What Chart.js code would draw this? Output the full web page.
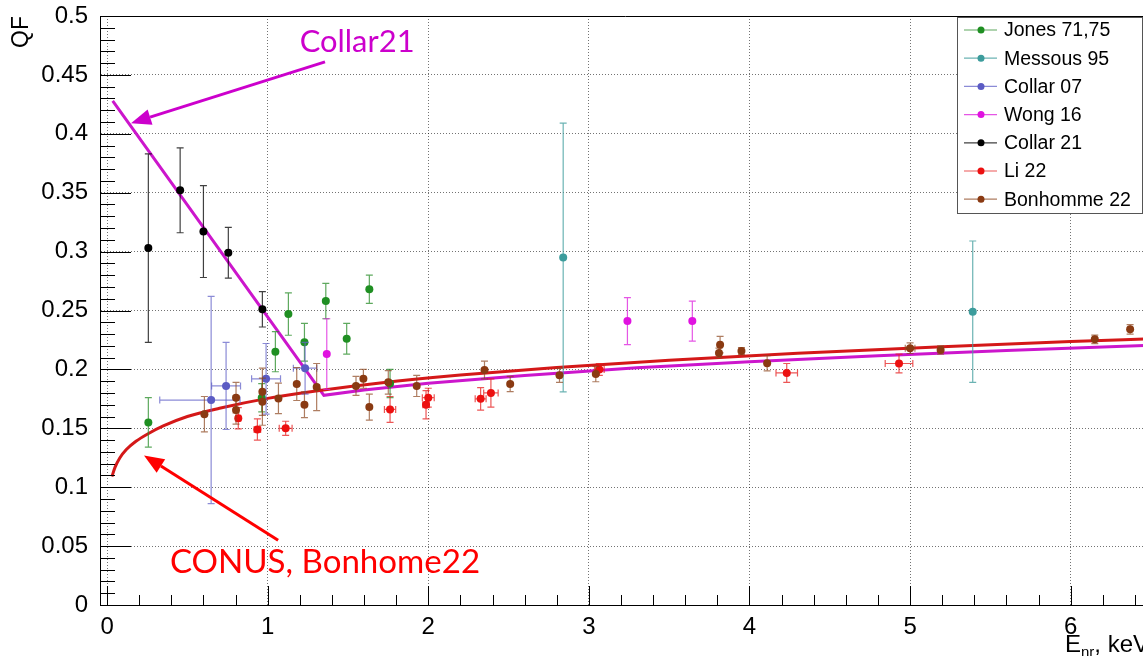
<!DOCTYPE html>
<html>
<head>
<meta charset="utf-8">
<script src="https://cdn.jsdelivr.net/npm/chart.js@4.4.0/dist/chart.umd.min.js"></script>
<style>
  html, body { margin: 0; padding: 0; background: #fff; overflow: hidden; }
  #wrap { position: relative; width: 1155px; height: 656px; }
</style>
</head>
<body>
<div id="wrap"><canvas id="qf" width="1155" height="656"></canvas></div>
<script>
// ---------------- measured quenching factors ----------------
// Jones 71,75
const jonesE   = [0.257, 0.963, 1.048, 1.129, 1.229, 1.362, 1.492, 1.633, 1.762];
const jonesQF  = [0.155, 0.176, 0.215, 0.247, 0.223, 0.258, 0.226, 0.268, 0.188];
const jonesDQF = [0.021, 0.012, 0.017, 0.018, 0.016, 0.015, 0.013, 0.012, 0.012];

// Messous 95
const messousE   = [2.84, 5.39];
const messousQF  = [0.295, 0.249];
const messousDQF = [0.114, 0.060];

// Collar 07
const collar07E    = [0.648, 0.741, 0.990, 1.233];
const collar07QF   = [0.174, 0.186, 0.192, 0.201];
const collar07DQF  = [0.088, 0.037, 0.030, 0.022];
const collar07DELo = [0.320, 0.090, 0.090, 0.073];
const collar07DEHi = [0.180, 0.090, 0.090, 0.073];

// Wong 16
const wongE   = [1.368, 3.240, 3.644];
const wongQF  = [0.213, 0.241, 0.241];
const wongDQF = [0.030, 0.020, 0.017];

// Collar 21
const collar21E   = [0.257, 0.455, 0.600, 0.755, 0.967];
const collar21QF  = [0.303, 0.352, 0.317, 0.299, 0.251];
const collar21DQF = [0.080, 0.036, 0.039, 0.0215, 0.015];

// Li 22
const liE   = [0.817, 0.936, 1.112, 1.762, 1.986, 2.000, 2.326, 2.390, 3.065, 4.232, 4.931];
const liQF  = [0.1585, 0.149, 0.150, 0.166, 0.170, 0.176, 0.175, 0.180, 0.200, 0.197, 0.205];
const liDQF = [0.009, 0.009, 0.006, 0.011, 0.012, 0.008, 0.0095, 0.012, 0.005, 0.008, 0.008];
const liDE  = [0.015, 0.020, 0.040, 0.035, 0.020, 0.037, 0.034, 0.045, 0.030, 0.067, 0.086];

// Bonhomme 22
const bonE   = [0.606, 0.803, 0.803, 0.967, 0.967, 1.067, 1.181, 1.229, 1.305, 1.550, 1.596, 1.633, 1.751,
                1.928, 2.350, 2.510, 2.817, 3.043, 3.810, 3.817, 3.950, 4.110, 5.000, 5.190, 6.150, 6.370];
const bonQF  = [0.162, 0.176, 0.1655, 0.181, 0.1726, 0.1754, 0.1876, 0.170, 0.185, 0.186, 0.192, 0.168, 0.189,
                0.186, 0.1995, 0.1876, 0.195, 0.196, 0.214, 0.221, 0.2156, 0.2052, 0.218, 0.2165, 0.2255, 0.234];
const bonDQF = [0.015, 0.013, 0.012, 0.020, 0.020, 0.013, 0.014, 0.011, 0.020, 0.008, 0.008, 0.011, 0.010,
                0.009, 0.0075, 0.0065, 0.006, 0.0065, 0.004, 0.007, 0.003, 0.0064, 0.0045, 0.0035, 0.0036, 0.004];
const bonDE  = [0, 0, 0, 0, 0, 0, 0, 0, 0, 0, 0, 0, 0,
                0, 0, 0, 0, 0, 0, 0, 0, 0, 0.030, 0, 0, 0];

// ---------------- model curves ----------------
// CONUS / Bonhomme 22 description
const conusE  = [0.03, 0.05, 0.08, 0.12, 0.18, 0.25, 0.35, 0.50, 0.70, 1.00, 1.30, 1.70, 2.20, 2.80, 3.50, 4.30, 5.20, 6.00, 6.50];
const conusQF = [0.109, 0.117, 0.125, 0.132, 0.139, 0.145, 0.152, 0.160, 0.167, 0.1754, 0.1817, 0.1885, 0.1952, 0.2017, 0.2078, 0.2137, 0.2193, 0.2236, 0.2260];

// Collar 21 description
const collarModelE  = [0.035, 1.350, 1.60, 2.00, 2.60, 3.30, 4.00, 4.80, 5.60, 6.50];
const collarModelQF = [0.428, 0.178, 0.1826, 0.1882, 0.1949, 0.2013, 0.2065, 0.2116, 0.2160, 0.2204];

// ---------------- axis tick labels ----------------
const xTickLabels = ['0', '1', '2', '3', '4', '5', '6'];
const yTickLabels = ['0', '0.05', '0.1', '0.15', '0.2', '0.25', '0.3', '0.35', '0.4', '0.45', '0.5'];

// ---------------- chart ----------------
const AXIS_FONT = '"Liberation Sans", Arial, Helvetica, sans-serif';
const NOTE_FONT = 'Lato, "Open Sans", sans-serif';

function pts(E, QF) { return E.map((e, i) => ({ x: e, y: QF[i] })); }

function series(label, color, barColor, E, QF, dQF, dELo, dEHi, order) {
  return {
    type: 'scatter', label, order,
    data: pts(E, QF),
    err: { dQF, dELo: dELo || null, dEHi: dEHi || dELo || null, color: barColor },
    backgroundColor: color, borderColor: color,
    pointRadius: 4, pointBorderWidth: 0, pointHoverRadius: 4,
    inLegend: true
  };
}

const datasets = [
  series('Jones 71,75', '#1f8f22', 'rgba(40,140,40,0.75)', jonesE, jonesQF, jonesDQF, null, null, 7),
  series('Messous 95', '#3c9c9c', 'rgba(70,160,160,0.8)', messousE, messousQF, messousDQF, null, null, 6),
  series('Collar 07', '#5b5bc4', 'rgba(100,100,200,0.75)', collar07E, collar07QF, collar07DQF, collar07DELo, collar07DEHi, 5),
  series('Wong 16', '#e012e0', 'rgba(220,30,220,0.75)', wongE, wongQF, wongDQF, null, null, 4),
  series('Collar 21', '#000000', 'rgba(0,0,0,0.75)', collar21E, collar21QF, collar21DQF, null, null, 3),
  series('Li 22', '#ec1010', 'rgba(230,30,30,0.75)', liE, liQF, liDQF, liDE, liDE, 2),
  series('Bonhomme 22', '#8a3a12', 'rgba(140,70,30,0.7)', bonE, bonQF, bonDQF, bonDE, bonDE, 1),
  {
    type: 'line', label: 'CONUS model', order: 20,
    data: pts(conusE, conusQF),
    borderColor: '#d41818', borderWidth: 3, pointRadius: 0, fill: false,
    cubicInterpolationMode: 'monotone'
  },
  {
    type: 'line', label: 'Collar model', order: 21,
    data: pts(collarModelE, collarModelQF),
    borderColor: '#cc16cc', borderWidth: 3, pointRadius: 0, fill: false, tension: 0
  }
];

// error bars, drawn just under each dataset's markers
const errorBars = {
  id: 'errorBars',
  beforeDatasetDraw(chart, args) {
    const ds = chart.data.datasets[args.index];
    if (!ds.err) return;
    const xs = chart.scales.x, ys = chart.scales.y, ctx = chart.ctx;
    const cap = 3.5;
    ctx.save();
    ctx.strokeStyle = ds.err.color;
    ctx.lineWidth = 1.2;
    ds.data.forEach((p, i) => {
      const px = xs.getPixelForValue(p.x), py = ys.getPixelForValue(p.y);
      const dq = ds.err.dQF ? ds.err.dQF[i] : 0;
      if (dq > 0) {
        const y1 = ys.getPixelForValue(p.y + dq), y2 = ys.getPixelForValue(p.y - dq);
        ctx.beginPath();
        ctx.moveTo(px, y1); ctx.lineTo(px, y2);
        ctx.moveTo(px - cap, y1); ctx.lineTo(px + cap, y1);
        ctx.moveTo(px - cap, y2); ctx.lineTo(px + cap, y2);
        ctx.stroke();
      }
      const lo = ds.err.dELo ? ds.err.dELo[i] : 0;
      const hi = ds.err.dEHi ? ds.err.dEHi[i] : 0;
      if (lo > 0 || hi > 0) {
        const x1 = xs.getPixelForValue(p.x - lo), x2 = xs.getPixelForValue(p.x + hi);
        ctx.beginPath();
        ctx.moveTo(x1, py); ctx.lineTo(x2, py);
        ctx.moveTo(x1, py - cap); ctx.lineTo(x1, py + cap);
        ctx.moveTo(x2, py - cap); ctx.lineTo(x2, py + cap);
        ctx.stroke();
      }
    });
    ctx.restore();
  }
};

// frame with inward ticks
const frameTicks = {
  id: 'frameTicks',
  afterDatasetsDraw(chart) {
    const { left, right, top, bottom } = chart.chartArea;
    const xs = chart.scales.x, ys = chart.scales.y, ctx = chart.ctx;
    ctx.save();
    ctx.strokeStyle = '#000';
    ctx.lineWidth = 1;
    ctx.beginPath();
    ctx.rect(left + 0.5, top + 0.5, right - left - 1, bottom - top);
    ctx.stroke();
    ctx.beginPath();
    for (let k = 0; k <= 50; k++) {
      const y = Math.round(ys.getPixelForValue(k * 0.01)) + 0.5;
      const len = (k % 5 === 0) ? 31 : 15;
      ctx.moveTo(left, y); ctx.lineTo(left + len, y);
    }
    for (let k = 0; k * 0.2 <= xs.max; k++) {
      const x = Math.round(xs.getPixelForValue(k * 0.2)) + 0.5;
      const len = (k % 5 === 0) ? 19 : 10;
      ctx.moveTo(x, bottom); ctx.lineTo(x, bottom - len);
    }
    ctx.stroke();
    ctx.restore();
  }
};

// axis titles, legend box and annotations
const overlay = {
  id: 'overlay',
  afterDraw(chart) {
    const ctx = chart.ctx;
    const { right, top, bottom } = chart.chartArea;
    const xs = chart.scales.x, ys = chart.scales.y;
    ctx.save();

    // y title
    ctx.fillStyle = '#000';
    ctx.font = `23px ${AXIS_FONT}`;
    ctx.translate(22, top);
    ctx.rotate(-Math.PI / 2);
    ctx.textAlign = 'right';
    ctx.textBaseline = 'middle';
    ctx.fillText('QF', 0, 0);
    ctx.setTransform(1, 0, 0, 1, 0, 0);

    // x title with subscript, right aligned on the frame
    const big = `24px ${AXIS_FONT}`, small = `15px ${AXIS_FONT}`;
    ctx.textBaseline = 'alphabetic';
    ctx.textAlign = 'left';
    ctx.font = big; const wE = ctx.measureText('E').width, wRest = ctx.measureText(', keV').width;
    ctx.font = small; const wSub = ctx.measureText('nr').width;
    let tx = right - 2 - (wE + wSub + wRest);
    const base = bottom + 47;
    ctx.font = big; ctx.fillText('E', tx, base); tx += wE;
    ctx.font = small; ctx.fillText('nr', tx, base + 5); tx += wSub;
    ctx.font = big; ctx.fillText(', keV', tx, base);

    // legend
    const lx = right - 194, ly = top + 1, lw = 185, lh = 196;
    ctx.fillStyle = '#fff';
    ctx.fillRect(lx, ly, lw, lh);
    ctx.strokeStyle = '#555';
    ctx.lineWidth = 1;
    ctx.strokeRect(lx + 0.5, ly + 0.5, lw, lh);
    const entries = chart.data.datasets.filter(d => d.inLegend);
    ctx.font = `19.5px ${AXIS_FONT}`;
    ctx.textBaseline = 'middle';
    entries.forEach((d, i) => {
      const ry = ly + 13 + i * 28.2;
      ctx.strokeStyle = d.err.color;
      ctx.lineWidth = 1.2;
      ctx.beginPath(); ctx.moveTo(lx + 7, ry); ctx.lineTo(lx + 40, ry); ctx.stroke();
      ctx.fillStyle = d.backgroundColor;
      ctx.beginPath(); ctx.arc(lx + 24, ry, 3.5, 0, Math.PI * 2); ctx.fill();
      ctx.fillStyle = '#000';
      ctx.fillText(d.label, lx + 47, ry + 1);
    });

    // annotations placed in data coordinates
    const P = (e, q) => [xs.getPixelForValue(e), ys.getPixelForValue(q)];
    function arrow(from, to, color) {
      const [x1, y1] = from, [x2, y2] = to;
      const ang = Math.atan2(y2 - y1, x2 - x1);
      const hl = 20, hw = 8;
      const bx = x2 - hl * Math.cos(ang), by = y2 - hl * Math.sin(ang);
      ctx.strokeStyle = color; ctx.fillStyle = color; ctx.lineWidth = 3;
      ctx.beginPath(); ctx.moveTo(x1, y1); ctx.lineTo(bx, by); ctx.stroke();
      ctx.beginPath();
      ctx.moveTo(x2, y2);
      ctx.lineTo(bx + hw * Math.sin(ang), by - hw * Math.cos(ang));
      ctx.lineTo(bx - hw * Math.sin(ang), by + hw * Math.cos(ang));
      ctx.closePath(); ctx.fill();
    }
    function note(text, at, color, width) {
      ctx.font = `100px ${NOTE_FONT}`;
      const size = 100 * width / ctx.measureText(text).width;
      ctx.font = `${size.toFixed(1)}px ${NOTE_FONT}`;
      ctx.fillStyle = color;
      ctx.textAlign = 'center';
      ctx.textBaseline = 'middle';
      ctx.fillText(text, at[0], at[1]);
    }
    arrow(P(1.357, 0.461), P(0.149, 0.409), '#cc00cc');
    note('Collar21', P(1.557, 0.478), '#cc00cc', 115);
    arrow(P(1.065, 0.055), P(0.230, 0.127), '#ff0000');
    note('CONUS, Bonhome22', P(1.357, 0.036), '#ff0000', 310);

    ctx.restore();
  }
};

// the frame is placed exactly: no extra room reserved for tick labels
function noPad(s) {
  s.paddingTop = 0; s.paddingBottom = 0; s.paddingLeft = 0; s.paddingRight = 0;
}

new Chart(document.getElementById('qf'), {
  type: 'scatter',
  data: { datasets },
  options: {
    responsive: false,
    animation: false,
    devicePixelRatio: 1,
    layout: { padding: { top: 16, right: 4, left: 0, bottom: 0 } },
    plugins: { legend: { display: false }, tooltip: { enabled: false } },
    scales: {
      x: {
        type: 'linear', min: -0.044, max: 6.5,
        afterFit(s) { s.height = 51; noPad(s); },
        ticks: {
          stepSize: 1, includeBounds: false, padding: 8, color: '#000',
          font: { family: AXIS_FONT, size: 24 },
          callback: v => xTickLabels[Math.round(v)] ?? ''
        },
        grid: { color: 'rgba(0,0,0,0.55)', lineWidth: 1, drawTicks: false },
        border: { display: true, color: '#000', width: 1, dash: [1, 2] }
      },
      y: {
        type: 'linear', min: 0, max: 0.5,
        afterFit(s) { s.width = 100; noPad(s); },
        ticks: {
          stepSize: 0.05, includeBounds: false, padding: 12, color: '#000',
          font: { family: AXIS_FONT, size: 24 },
          callback: v => yTickLabels[Math.round(v / 0.05)] ?? ''
        },
        grid: { color: 'rgba(0,0,0,0.55)', lineWidth: 1, drawTicks: false },
        border: { display: true, color: '#000', width: 1, dash: [1, 2] }
      }
    }
  },
  plugins: [errorBars, frameTicks, overlay]
});
</script>
</body>
</html>
